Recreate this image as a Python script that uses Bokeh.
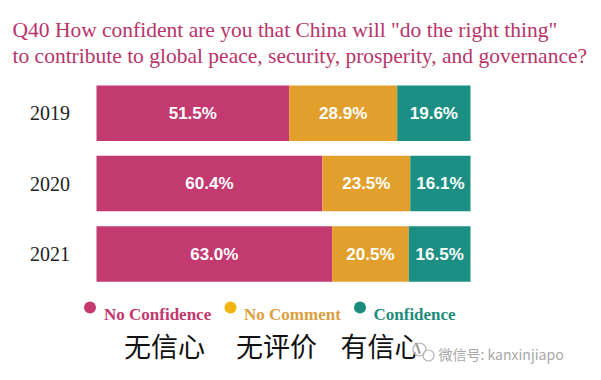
from bokeh.plotting import figure
from bokeh.models import Range1d, ColumnDataSource
from bokeh.core.properties import value
from bokeh.embed import file_html
from bokeh.resources import INLINE

# ---- data ----
years = ["2019", "2020", "2021"]
no_confidence = [51.5, 60.4, 63.0]
no_comment = [28.9, 23.5, 20.5]
confidence = [19.6, 16.1, 16.5]
series_names = ["No Confidence", "No Comment", "Confidence"]
series_cn = ["无信心", "无评价", "有信心"]
title_lines = ['Q40 How confident are you that China will "do the right thing"',
               "to contribute to global peace, security, prosperity, and governance?"]

# ---- styling ----
BAR_COLORS = ["#c23a70", "#e29f2c", "#1b8f83"]
DOT_COLORS = ["#c43a70", "#f2b411", "#1a8c7e"]
LEGEND_TEXT_COLORS = ["#c0386e", "#dba040", "#1f8c7c"]
TITLE_COLOR = "#b8346a"

W, H = 596, 372
# mapping of canvas pixels -> data (layout helper only)
X0, PXPCT = 96.0, 3.74
Y0, PXROW = 112.7, 70.4
def fx(px):
    return (px - X0) / PXPCT
def fy(py):
    return (py - Y0) / PXROW

p = figure(width=W, height=H, output_backend="svg", toolbar_location=None,
           x_range=Range1d(fx(0), fx(W)), y_range=Range1d(fy(H), fy(0)),
           min_border=0, min_border_left=0, min_border_right=0,
           min_border_top=0, min_border_bottom=0)
p.xaxis.visible = False
p.yaxis.visible = False
p.grid.visible = False
p.outline_line_color = None
p.background_fill_color = "white"
p.border_fill_color = "white"

rows = list(range(len(years)))
series = [no_confidence, no_comment, confidence]
left = [0.0] * len(years)
bar_h = 55.5 / PXROW
for vals, col in zip(series, BAR_COLORS):
    right = [l + v for l, v in zip(left, vals)]
    mid = [(l + r) / 2 for l, r in zip(left, right)]
    src = ColumnDataSource(dict(y=rows, left=left, right=right, mid=mid,
                                lab=[f"{v:.1f}%" for v in vals]))
    p.hbar(y="y", left="left", right="right", height=bar_h, source=src,
           fill_color=col, line_color=None)
    p.text(x="mid", y="y", text="lab", source=src, text_color="white",
           text_font=value("Liberation Sans"), text_font_style="bold",
           text_font_size="17px", text_align="center", text_baseline="middle")
    left = right

# year labels
p.text(x=[fx(49.5)] * len(years), y=rows, text=years, text_color="#222222",
       text_font=value("Liberation Serif"), text_font_size="20px",
       text_align="center", text_baseline="middle")

# title
p.text(x=[fx(12), fx(12)], y=[fy(29), fy(55)], text=title_lines,
       text_color=TITLE_COLOR, text_font=value("Liberation Serif"),
       text_font_size="21.5px", text_align="left", text_baseline="alphabetic")

# legend
dot_x = [89.5, 230, 359.5]
txt_x = [103.5, 243.5, 373]
p.scatter(x=[fx(v) for v in dot_x], y=[fy(307)] * 3, size=12,
          fill_color=DOT_COLORS, line_color=None)
for tx, name, c in zip(txt_x, series_names, LEGEND_TEXT_COLORS):
    p.text(x=[fx(tx)], y=[fy(313.5)], text=[name], text_color=c,
           text_font=value("Liberation Serif"), text_font_style="bold",
           text_font_size="17px", text_align="left", text_baseline="alphabetic")

# chinese captions
cn_x = [123.5, 235.5, 340]
p.text(x=[fx(v) for v in cn_x], y=[fy(345)] * 3, text=series_cn,
       text_color="#111111", text_font=value("Noto Sans CJK SC"),
       text_font_size="27px", text_align="left", text_baseline="middle")

# watermark
p.scatter(x=[fx(419), fx(428)], y=[fy(349), fy(355)], size=[13, 11],
          fill_color="white", fill_alpha=0.6, line_color="#b0b0b0", line_width=1.2)
p.text(x=[fx(438)], y=[fy(353)], text=["微信号: kanxinjiapo"], text_color="#a8a8a8",
       text_font=value("Noto Sans CJK SC"), text_font_size="14px",
       text_align="left", text_baseline="middle")

open("out.html", "w").write(file_html(p, INLINE))
